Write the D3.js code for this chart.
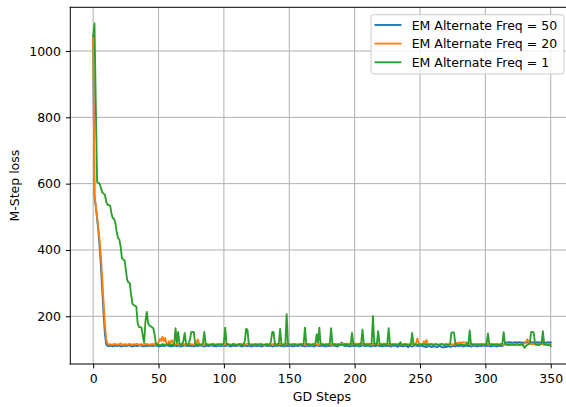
<!DOCTYPE html>
<html>
<head>
<meta charset="utf-8">
<script src="https://cdn.jsdelivr.net/npm/d3@7"></script>
<style>
  html, body { margin: 0; padding: 0; background: #fff; }
  svg { display: block; font-family: "DejaVu Sans", sans-serif; }
</style>
</head>
<body>
<svg id="chart" width="566" height="407"></svg>
<script>
// ---- Data ----
const seriesNames = ["EM Alternate Freq = 50", "EM Alternate Freq = 20", "EM Alternate Freq = 1"];
const seriesColors = ["#1f77b4", "#ff7f0e", "#2ca02c"];
const xTicks = [0, 50, 100, 150, 200, 250, 300, 350];
const yTicks = [200, 400, 600, 800, 1000];

const freq50 = [
1045,560,530,495,455,405,345,275,205,145,115,111,110,112,111,109,111,112,110,111,113,110,109,111,112,
110,111,113,112,110,109,111,112,111,110,112,113,111,110,109,111,112,110,111,112,111,110,113,112,111,
110,109,111,112,110,111,113,112,110,111,109,111,112,111,110,112,111,109,110,112,113,111,110,111,112,
110,111,109,112,111,110,112,113,111,110,109,111,112,110,111,113,112,110,111,109,111,112,110,111,112,
111,110,112,113,111,109,110,112,111,110,111,113,112,110,109,111,112,111,110,112,111,109,110,112,111,
110,111,112,110,109,111,113,112,110,111,112,111,109,110,112,111,110,113,112,110,111,109,111,112,110,
111,112,110,109,111,112,111,110,113,112,110,111,109,111,112,110,111,112,110,109,111,113,112,110,111,
112,111,110,109,111,112,110,111,113,112,111,110,109,112,114,121,116,111,110,112,111,109,110,112,111,
110,111,112,110,109,111,113,112,110,111,112,111,109,110,112,111,110,113,112,110,111,109,111,112,110,
111,112,110,109,111,112,111,110,108,112,110,111,109,111,112,110,107,112,110,109,111,113,112,110,111,
112,111,110,109,108,107,110,111,108,107,109,110,108,107,109,111,108,107,106,108,107,109,110,108,109,
110,111,109,112,111,110,112,111,109,110,111,112,110,111,109,110,112,111,110,109,111,112,110,111,112,
111,110,112,111,109,110,112,111,110,109,111,112,110,111,113,117,121,121,122,121,121,120,121,122,121,
121,122,121,121,120,121,121,122,121,121,122,121,121,120,121,122,121,121,122,121,121,120,121,122,121,
121
];

const freq20 = [
1045,565,535,500,465,425,375,310,240,175,130,117,115,116,114,115,117,116,114,115,116,118,115,114,116,
115,114,116,117,115,114,116,115,117,116,114,115,116,115,114,116,117,115,114,116,115,117,114,116,118,
120,132,126,138,125,135,118,116,125,118,128,120,116,115,117,116,114,115,116,117,115,114,116,115,117,
116,115,114,117,120,130,118,115,116,114,115,117,116,114,115,116,115,117,114,116,115,114,116,117,115,
114,116,115,117,116,114,115,116,117,115,114,116,115,117,116,114,115,116,117,118,115,114,116,115,114,
116,115,117,114,116,115,114,116,117,115,114,116,115,117,116,114,115,116,117,115,114,116,115,117,116,
114,115,116,115,117,114,116,115,114,116,117,115,114,116,115,117,116,114,115,116,117,115,114,116,115,
117,116,114,115,116,117,115,114,116,115,117,116,114,115,116,117,118,117,116,118,117,116,118,117,116,
118,117,116,118,117,119,116,118,117,116,118,117,116,115,117,116,118,117,116,115,117,116,118,117,116,
115,117,116,114,116,117,115,114,116,117,115,116,114,117,115,116,114,117,116,115,116,117,118,133,118,
116,117,115,125,116,129,115,116,114,117,115,116,117,115,114,116,117,115,116,114,117,115,116,117,115,
116,114,117,119,120,121,120,121,122,121,120,121,119,117,116,115,117,116,114,116,115,117,116,114,115,
116,117,115,114,116,117,115,116,114,117,115,116,117,115,114,116,117,115,116,114,117,115,116,117,115,
116,114,117,115,116,118,121,131,125,118,116,117,115,116,114,117,115,116,117,115,114,116,117,115,114,
116
];

const freq1 = [
1045,1083,840,606,603,600,585,573,570,566,545,537,535,534,510,496,494,480,455,436,432,410,376,371,369,
340,310,302,300,265,238,234,231,229,180,168,167,166,140,120,185,213,180,172,170,167,164,145,117,114,
115,113,114,116,114,115,113,114,116,115,114,113,118,164,120,153,118,114,116,125,150,118,114,116,130,
152,153,152,118,114,116,115,113,114,120,153,117,114,115,113,114,116,115,113,114,115,116,114,113,115,
120,166,118,114,115,113,114,116,115,113,114,115,116,114,113,115,125,162,160,118,114,115,113,114,116,
115,113,114,116,115,113,114,115,116,114,113,125,153,152,118,114,116,118,162,117,114,115,116,206,118,
114,115,113,116,114,115,113,114,116,115,113,118,166,117,114,115,113,114,116,115,118,146,120,166,117,
114,115,113,116,114,115,118,164,117,114,115,113,116,114,115,113,114,116,115,113,114,115,116,150,117,
114,115,113,116,114,118,160,117,114,115,113,114,116,118,201,120,115,118,155,117,114,115,113,116,114,
118,164,117,114,115,113,116,114,115,114,122,115,113,114,116,115,113,114,116,150,117,114,115,113,116,
114,115,113,116,114,115,113,114,116,115,113,114,116,115,113,114,115,116,114,113,115,114,113,116,150,
152,151,118,114,115,113,116,114,115,113,114,118,116,157,117,114,115,113,116,114,115,113,114,116,115,
114,118,148,117,114,115,113,116,114,115,113,114,116,118,152,117,114,115,113,116,114,115,113,114,116,
115,113,114,116,112,105,110,114,116,118,152,153,151,118,114,115,113,116,118,155,117,114,115,113,116,
110
];

const allSeries = [freq50, freq20, freq1];

// ---- Layout ----
const W = 566, H = 407;
const plot = { left: 70.3, top: 7.3, bottom: 364, right: 573.6 };
const fs = 12.5;

const svg = d3.select("#chart");

const x = d3.scaleLinear().domain([-17.5, 367.5]).range([plot.left, plot.right]);
const y = d3.scaleLinear().domain([56.15, 1131.8]).range([plot.bottom, plot.top]);

svg.append("defs").append("clipPath").attr("id", "clip")
  .append("rect")
  .attr("x", plot.left).attr("y", plot.top)
  .attr("width", plot.right - plot.left).attr("height", plot.bottom - plot.top);

// Grid
const grid = svg.append("g");
grid.selectAll("line.gx").data(xTicks).join("line")
  .attr("x1", d => x(d)).attr("x2", d => x(d))
  .attr("y1", plot.top).attr("y2", plot.bottom)
  .attr("stroke", "#b0b0b0").attr("stroke-width", 1);
grid.selectAll("line.gy").data(yTicks).join("line")
  .attr("y1", d => y(d)).attr("y2", d => y(d))
  .attr("x1", plot.left).attr("x2", plot.right)
  .attr("stroke", "#b0b0b0").attr("stroke-width", 1);

// Lines
const line = d3.line().x((d, i) => x(i)).y(d => y(d));
const lines = svg.append("g").attr("clip-path", "url(#clip)");
allSeries.forEach((s, k) => {
  lines.append("path")
    .datum(s)
    .attr("d", line)
    .attr("fill", "none")
    .attr("stroke", seriesColors[k])
    .attr("stroke-width", 1.875)
    .attr("stroke-linejoin", "round")
    .attr("stroke-linecap", "square");
});

// Axes
const tickLen = 4.4;
const xAxis = d3.axisBottom(x).tickValues(xTicks).tickSize(tickLen).tickPadding(6).tickFormat(d3.format("d"));
const gx = svg.append("g").attr("transform", `translate(0,${plot.bottom})`).call(xAxis);
gx.select(".domain").remove();
gx.selectAll("line").attr("stroke", "#000").attr("stroke-width", 1);
gx.selectAll("text").attr("font-size", fs).attr("fill", "#000").attr("font-family", "DejaVu Sans");

const yAxis = d3.axisLeft(y).tickValues(yTicks).tickSize(tickLen).tickPadding(4.9).tickFormat(d3.format("d"));
const gy = svg.append("g").attr("transform", `translate(${plot.left},0)`).call(yAxis);
gy.select(".domain").remove();
gy.selectAll("line").attr("stroke", "#000").attr("stroke-width", 1);
gy.selectAll("text").attr("font-size", fs).attr("fill", "#000").attr("font-family", "DejaVu Sans");

// Spines
svg.append("line").attr("x1", plot.left).attr("x2", plot.left).attr("y1", plot.top).attr("y2", plot.bottom)
  .attr("stroke", "#000").attr("stroke-width", 1).attr("stroke-linecap", "square");
svg.append("line").attr("x1", plot.left).attr("x2", plot.right).attr("y1", plot.bottom).attr("y2", plot.bottom)
  .attr("stroke", "#000").attr("stroke-width", 1).attr("stroke-linecap", "square");
svg.append("line").attr("x1", plot.left).attr("x2", plot.right).attr("y1", plot.top).attr("y2", plot.top)
  .attr("stroke", "#000").attr("stroke-width", 1).attr("stroke-linecap", "square");

// Axis labels
svg.append("text").attr("x", (plot.left + plot.right) / 2).attr("y", 400.8)
  .attr("text-anchor", "middle").attr("font-size", fs).attr("fill", "#000").text("GD Steps");
svg.append("text")
  .attr("transform", `translate(19.2,${(plot.top + plot.bottom) / 2}) rotate(-90)`)
  .attr("text-anchor", "middle").attr("font-size", fs).attr("fill", "#000").text("M-Step loss");

// Legend
const lg = svg.append("g");
lg.append("rect").attr("x", 371).attr("y", 14.7).attr("width", 193).attr("height", 59.3).attr("rx", 3)
  .attr("fill", "#fff").attr("fill-opacity", 0.8).attr("stroke", "#cccccc").attr("stroke-width", 1);
const legendY = [25, 43.6, 62.3];
seriesNames.forEach((name, k) => {
  lg.append("line").attr("x1", 374.5).attr("x2", 401.5).attr("y1", legendY[k]).attr("y2", legendY[k])
    .attr("stroke", seriesColors[k]).attr("stroke-width", 1.875);
  lg.append("text").attr("x", 411.7).attr("y", legendY[k]).attr("dy", "0.36em")
    .attr("font-size", fs).attr("fill", "#000").text(name);
});
</script>
</body>
</html>
